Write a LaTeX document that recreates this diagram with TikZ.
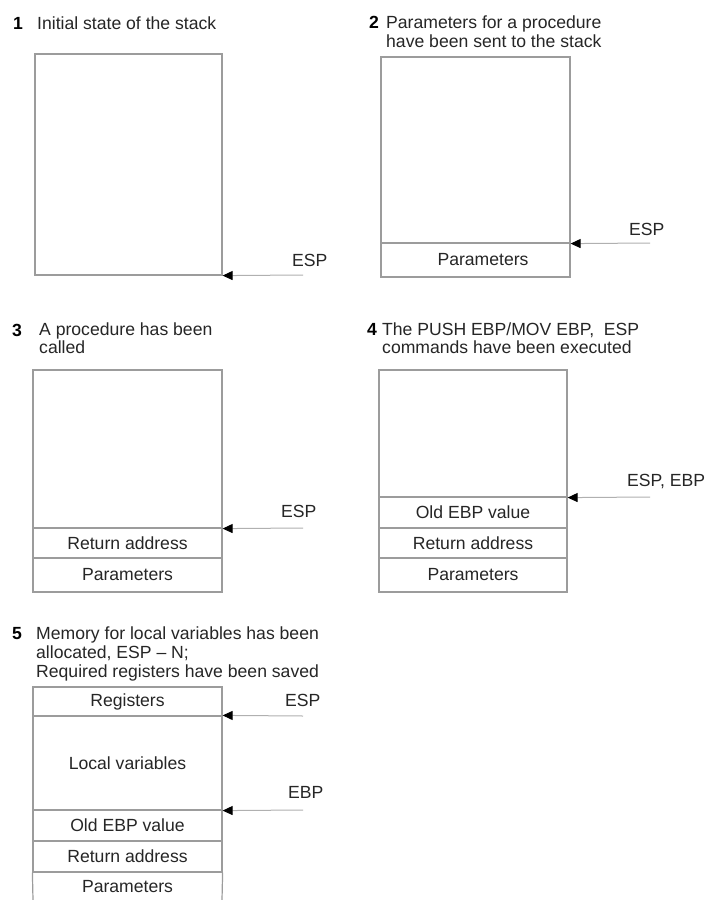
\documentclass[tikz,border=0pt]{standalone}
\usepackage{fontspec}
\setmainfont{Liberation Sans}
\usetikzlibrary{arrows.meta}
\definecolor{boxgray}{HTML}{9C9C9C}
\definecolor{arrgray}{HTML}{B0B0B0}
\definecolor{txt}{HTML}{262626}
\newcommand{\lab}{\fontsize{17.6}{19}\selectfont}
\begin{document}
\begin{tikzpicture}[x=1pt,y=-1pt,
  cell/.style={draw=boxgray, line width=1.2pt, inner sep=0pt, text=txt, font=\lab},
  ptr/.style={draw=arrgray, line width=1pt, -{Triangle[length=10pt,width=9pt,color=black]}},
  ttl/.style={anchor=base west, inner sep=0pt, text=txt, font=\lab},
  num/.style={anchor=base west, inner sep=0pt, text=black, font=\lab\bfseries},
  reg/.style={anchor=base west, inner sep=0pt, text=txt, font=\lab}]
\useasboundingbox (0,0) rectangle (709,900);
\fill[white] (0,0) rectangle (709,900);

% ---------- Panel 1 ----------
\node[num] (n1) at (13,29) {1};
\node[ttl] (t1) at (37,29) {Initial state of the stack};
\node[cell, minimum width=187pt, minimum height=221pt] (p1e) at (128.5,164.5) {};
\coordinate (p1t) at (303,275);
\draw[ptr] (p1t) -- (p1e.south east);
\node[reg] (r1) at (292,266) {ESP};

% ---------- Panel 2 ----------
\node[num] (n2) at (369,28) {2};
\node[ttl] (t2a) at (386,28) {Parameters for a procedure};
\node[ttl] (t2b) at (386,47) {have been sent to the stack};
\node[cell, minimum width=189pt, minimum height=186pt] (p2e) at (475.5,150) {};
\node[cell, minimum width=189pt, minimum height=34pt] (p2a) at (475.5,260) {};
\node[text=txt, font=\lab, inner sep=0pt] (p2at) at (483,260) {Parameters};
\coordinate (p2t) at (650,243);
\draw[ptr] (p2t) -- (p2e.south east);
\node[reg] (r2) at (629,235) {ESP};

% ---------- Panel 3 ----------
\node[num] (n3) at (12,336) {3};
\node[ttl] (t3a) at (39,335) {A procedure has been};
\node[ttl] (t3b) at (39,353) {called};
\node[cell, minimum width=189pt, minimum height=158pt] (p3e) at (127.5,449) {};
\node[cell, minimum width=189pt, minimum height=30pt] (p3r) at (127.5,543) {Return address};
\node[cell, minimum width=189pt, minimum height=34pt] (p3p) at (127.5,575) {Parameters};
\coordinate (p3t) at (303,528);
\draw[ptr] (p3t) -- (p3e.south east);
\node[reg] (r3) at (281,517) {ESP};

% ---------- Panel 4 ----------
\node[num] (n4) at (367,335) {4};
\node[ttl] (t4a) at (382,335) {The PUSH EBP/MOV EBP,\ \ ESP};
\node[ttl] (t4b) at (382,353) {commands have been executed};
\node[cell, minimum width=188pt, minimum height=127pt] (p4e) at (473,433.5) {};
\node[cell, minimum width=188pt, minimum height=31pt] (p4o) at (473,512.5) {Old EBP value};
\node[cell, minimum width=188pt, minimum height=30pt] (p4r) at (473,543) {Return address};
\node[cell, minimum width=188pt, minimum height=34pt] (p4p) at (473,575) {Parameters};
\coordinate (p4t) at (650,497);
\draw[ptr] (p4t) -- (p4e.south east);
\node[reg] (r4) at (627,486) {ESP, EBP};

% ---------- Panel 5 ----------
\node[num] (n5) at (12,639) {5};
\node[ttl] (t5a) at (36,639) {Memory for local variables has been};
\node[ttl] (t5b) at (36,658) {allocated, ESP -- N;};
\node[ttl] (t5c) at (36,677) {Required registers have been saved};
\node[cell, minimum width=189pt, minimum height=29pt] (p5g) at (127.5,701.5) {Registers};
\node[cell, minimum width=189pt, minimum height=94pt] (p5l) at (127.5,763) {Local variables};
\node[cell, minimum width=189pt, minimum height=31pt] (p5o) at (127.5,825.5) {Old EBP value};
\node[cell, minimum width=189pt, minimum height=31pt] (p5r) at (127.5,856.5) {Return address};
\node[text=txt, font=\lab, inner sep=0pt] (p5p) at (127.5,887) {Parameters};
\coordinate (p5bl) at (33,900);
\coordinate (p5br) at (222,900);
\draw[boxgray, line width=1.2pt] (p5r.south west) -- (p5bl);
\draw[boxgray, line width=1.2pt] (p5r.south east) -- (p5br);
\coordinate (p5t1) at (303,716);
\draw[ptr] (p5t1) -- (p5l.north east);
\node[reg] (r5a) at (285,706) {ESP};
\coordinate (p5t2) at (303,810);
\draw[ptr] (p5t2) -- (p5l.south east);
\node[reg] (r5b) at (288,798) {EBP};
\end{tikzpicture}
\end{document}
